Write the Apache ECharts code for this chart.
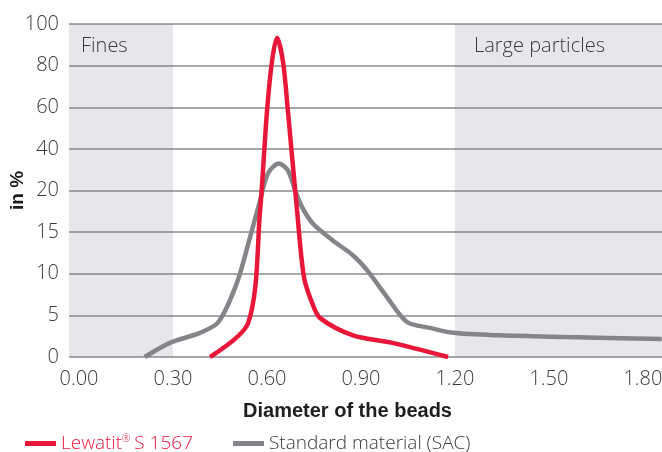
<!DOCTYPE html>
<html><head><meta charset="utf-8">
<script src="https://cdn.jsdelivr.net/npm/echarts@6/dist/echarts.min.js"></script>
<style>html,body{margin:0;padding:0;background:#fff}#c{width:662px;height:452px}</style>
</head><body><div id="c"></div>
<script>
// Tick labels of the (piecewise) y axis, equally spaced
const yTicks = [0, 5, 10, 15, 20, 40, 60, 80, 100];
const xTicks = [0, 0.3, 0.6, 0.9, 1.2, 1.5, 1.8];
// Lewatit S 1567: [diameter mm, %]
const lewatit = [
  [0.418, 0], [0.54, 4.1], [0.578, 17.6], [0.60, 58], [0.616, 82], [0.632, 93.4],
  [0.651, 82], [0.667, 58], [0.696, 17.6], [0.718, 9.6], [0.744, 6.5], [0.769, 4.7],
  [0.875, 2.6], [1.0, 1.7], [1.178, 0]
];
// Standard material (SAC)
const standard = [
  [0.21, 0], [0.29, 1.7], [0.386, 2.9], [0.445, 4.2], [0.504, 8.9], [0.546, 14.4],
  [0.578, 18.8], [0.603, 28.2], [0.638, 33], [0.667, 29.6], [0.69, 20], [0.712, 18],
  [0.747, 16], [0.81, 14], [0.875, 12.2], [0.92, 10.4], [0.983, 7.2], [1.047, 4.2],
  [1.12, 3.5], [1.194, 2.9], [1.344, 2.6], [1.557, 2.4], [1.86, 2.15]
];
const zones = [
  { name: 'Fines', from: -0.032, to: 0.3 },
  { name: 'Large particles', from: 1.2, to: 1.861 }
];

// map a % value to the piecewise axis position
function toAxis(v) {
  for (let i = 1; i < yTicks.length; i++) {
    if (v <= yTicks[i]) return (i - 1) + (v - yTicks[i - 1]) / (yTicks[i] - yTicks[i - 1]);
  }
  return yTicks.length - 1;
}
const conv = arr => arr.map(p => [p[0], toAxis(p[1])]);

const RED = '#e8173a', GRAY = '#848589', TXT = '#3a3a3a';
const font = '"Open Sans", Roboto, sans-serif';
const bold = '"Liberation Sans", Arial, sans-serif';
const chart = echarts.init(document.getElementById('c'));
chart.setOption({
  animation: false,
  textStyle: { fontFamily: font },
  grid: { left: 69, right: 0, top: 24, bottom: 95, containLabel: false, outerBoundsMode: 'none' },
  legend: {
    left: 20, top: 429, itemGap: 40, itemWidth: 31, itemHeight: 5,
    textStyle: { fontSize: 19, fontFamily: font, fontWeight: 300, color: TXT },
    formatter: n => n === 'Lewatit' ? '{a|Lewatit}{sup|®}{a|S 1567}' : 'Standard material (SAC)',
    data: [
      { name: 'Lewatit', icon: 'rect', itemStyle: { color: RED },
        textStyle: { color: RED, rich: {
          a: { color: RED, fontSize: 19, fontWeight: 300, fontFamily: font },
          sup: { color: RED, fontSize: 10, fontWeight: 300, fontFamily: font, verticalAlign: 'top', padding: [0, 4, 8, 0] } } } },
      { name: 'Standard', icon: 'rect', itemStyle: { color: GRAY } }
    ]
  },
  xAxis: {
    type: 'value', min: -0.032, max: 1.861,
    name: 'Diameter of the beads', nameLocation: 'middle', nameGap: 44,
    nameTextStyle: { fontSize: 20, fontWeight: 'bold', fontFamily: bold, color: '#1e1e1e', padding: [0, 36, 0, 0] },
    axisLine: { show: false }, axisTick: { show: false }, splitLine: { show: false },
    axisLabel: { customValues: xTicks, formatter: v => v.toFixed(2), fontSize: 20, color: TXT, fontWeight: 300, margin: 12 }
  },
  yAxis: {
    type: 'value', min: 0, max: yTicks.length - 1, interval: 1,
    name: 'in %', nameLocation: 'middle', nameGap: 42, nameRotate: 90, nameMoveOverlap: false,
    nameTextStyle: { fontSize: 19, fontWeight: 'bold', fontFamily: bold, color: '#1e1e1e' },
    axisLine: { show: false }, axisTick: { show: false },
    splitLine: { lineStyle: { color: '#8a8a8c', width: 1.5 } },
    axisLabel: { formatter: v => String(yTicks[Math.round(v)]), fontSize: 20, color: TXT, fontWeight: 300, margin: 10 }
  },
  series: [
    {
      name: 'zones', type: 'line', data: [], z: 1, silent: true,
      markArea: {
        silent: true,
        itemStyle: { color: 'rgba(118,124,136,0.18)' },
        label: { position: 'insideTopLeft', fontSize: 20, color: TXT, fontWeight: 300, fontFamily: font },
        data: zones.map((z, i) => [
          { name: z.name, xAxis: z.from, label: { offset: i === 0 ? [7, 7] : [14, 7] } },
          { xAxis: z.to }
        ])
      }
    },
    {
      name: 'Lewatit', type: 'line', data: conv(lewatit), smooth: 0.3, symbol: 'none', z: 4,
      lineStyle: { color: RED, width: 4.5 }, itemStyle: { color: RED }
    },
    {
      name: 'Standard', type: 'line', data: conv(standard), smooth: 0.3, symbol: 'none', z: 3,
      lineStyle: { color: GRAY, width: 4.5 }, itemStyle: { color: GRAY }
    }
  ]
});
</script></body></html>
